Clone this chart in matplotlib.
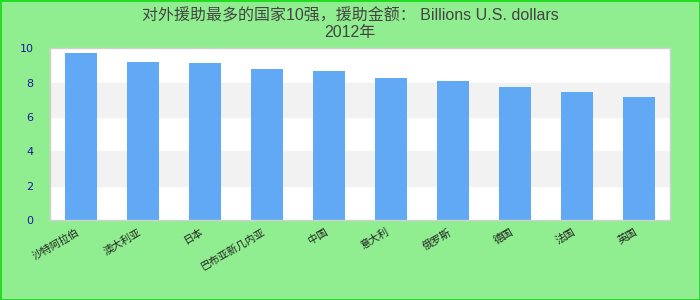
import matplotlib
matplotlib.use("Agg")
import matplotlib.pyplot as plt

# Data
countries = ["沙特阿拉伯", "澳大利亚", "日本", "巴布亚新几内亚", "中国",
             "意大利", "俄罗斯", "德国", "法国", "英国"]
values = [9.70, 9.19, 9.13, 8.78, 8.66, 8.26, 8.08, 7.73, 7.44, 7.15]
y_ticks = [0, 2, 4, 6, 8, 10]
title_text = "对外援助最多的国家10强，援助金额： Billions U.S. dollars\n2012年"

fig = plt.figure(figsize=(7, 3), dpi=100)
fig.patch.set_facecolor("#90ee90")
fig.patch.set_edgecolor("#22dd22")
fig.patch.set_linewidth(2)

ax = fig.add_axes([50 / 700, 80 / 300, 620 / 700, 171.7 / 300])
ax.set_facecolor("white")

# alternating horizontal bands
for i in range(len(y_ticks) - 1):
    if i % 2 == 1:
        ax.axhspan(y_ticks[i], y_ticks[i + 1], color="#f2f2f2", zorder=0)

x = list(range(len(countries)))
ax.bar(x, values, width=0.52, color="#62a9f5", zorder=2)

ax.set_xlim(-0.5, len(countries) - 0.5)
ax.set_ylim(0, 10)
ax.set_yticks(y_ticks)
ax.set_xticks(x)
ax.set_xticklabels(countries, rotation=30, ha="right", fontsize=7.5,
                   color="#222222", family=["Noto Sans CJK SC", "DejaVu Sans"])
ax.tick_params(axis="y", length=0, labelsize=8, labelcolor="#1a1a9a", pad=12)
ax.tick_params(axis="x", length=0, pad=5)

for s in ax.spines.values():
    s.set_color("#d0d0d0")
    s.set_linewidth(1)

fig.text(0.5, 0.975, title_text, ha="center", va="top", fontsize=11.5,
         color="#444444", family=["Liberation Sans", "Noto Sans CJK SC"],
         linespacing=1.2)

fig.savefig("out.png", dpi=100, facecolor=fig.get_facecolor(),
            edgecolor=fig.get_edgecolor())
